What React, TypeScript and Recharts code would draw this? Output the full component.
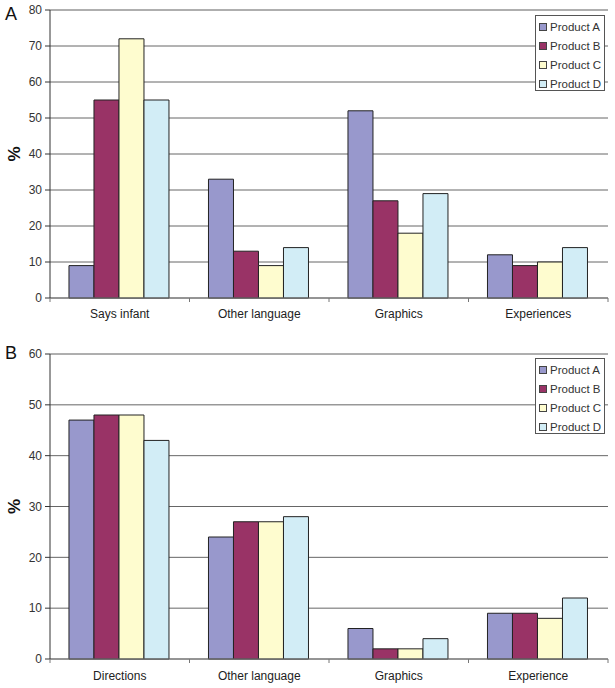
import React from 'react';
import { BarChart, Bar, XAxis, YAxis, CartesianGrid, Legend, ReferenceLine } from 'recharts';

const seriesNames = ['Product A', 'Product B', 'Product C', 'Product D'];
const seriesKeys = ['a', 'b', 'c', 'd'];
const seriesColors = ['#9898cc', '#993366', '#fefccf', '#d2edf6'];

const topCategories = ['Says infant', 'Other language', 'Graphics', 'Experiences'];
const topProductA = [9, 33, 52, 12];
const topProductB = [55, 13, 27, 9];
const topProductC = [72, 9, 18, 10];
const topProductD = [55, 14, 29, 14];
const topTicks = [0, 10, 20, 30, 40, 50, 60, 70, 80];

const bottomCategories = ['Directions', 'Other language', 'Graphics', 'Experience'];
const bottomProductA = [47, 24, 6, 9];
const bottomProductB = [48, 27, 2, 9];
const bottomProductC = [48, 27, 2, 8];
const bottomProductD = [43, 28, 4, 12];
const bottomTicks = [0, 10, 20, 30, 40, 50, 60];

const buildRows = (cats: string[], a: number[], b: number[], c: number[], d: number[]) =>
  cats.map((name, i) => ({ name, a: a[i], b: b[i], c: c[i], d: d[i] }));

const topData = buildRows(topCategories, topProductA, topProductB, topProductC, topProductD);
const bottomData = buildRows(bottomCategories, bottomProductA, bottomProductB, bottomProductC, bottomProductD);

const CHART_W = 615;
const Y_W = 50;
const RIGHT_M = 7;
const PLOT_W = CHART_W - Y_W - RIGHT_M;

const LegendBox = () => (
  <div
    style={{
      border: '1px solid #555',
      background: '#fff',
      width: 70,
      height: 76,
      boxSizing: 'border-box',
      padding: '1px 0 0 3px',
    }}
  >
    {seriesNames.map((n, i) => (
      <div key={n} style={{ height: 19, display: 'flex', alignItems: 'center', fontSize: 11.5, color: '#333', whiteSpace: 'nowrap' }}>
        <span
          style={{
            display: 'inline-block',
            width: 6,
            height: 6,
            border: '1px solid #444',
            background: seriesColors[i],
            marginRight: 3,
          }}
        />
        {n}
      </div>
    ))}
  </div>
);

const makeTick = (nCats: number, labelDy: number) => (props: any) => {
  const { x, y, payload, index } = props;
  const band = PLOT_W / nCats;
  const lx = x - band / 2;
  return (
    <g>
      <line x1={lx} y1={y} x2={lx} y2={y + 4} stroke="#777" />
      {index === nCats - 1 && <line x1={x + band / 2} y1={y} x2={x + band / 2} y2={y + 4} stroke="#777" />}
      <text x={x} y={y + labelDy} textAnchor="middle" fontSize={12} fill="#222">
        {payload.value}
      </text>
    </g>
  );
};

type PanelProps = {
  data: any[];
  ticks: number[];
  height: number;
  top: number;
  xAxisH: number;
  labelDy: number;
  legendTop: number;
  letter: string;
  letterTop: number;
};

const Panel = ({ data, ticks, height, top, xAxisH, labelDy, legendTop, letter, letterTop }: PanelProps) => {
  const max = ticks[ticks.length - 1];
  return (
    <div style={{ position: 'relative', width: CHART_W, height }}>
      <div style={{ position: 'absolute', left: 5, top: letterTop, fontSize: 18, color: '#111', lineHeight: 1 }}>{letter}</div>
      <BarChart
        width={CHART_W}
        height={height}
        data={data}
        margin={{ top, right: RIGHT_M, bottom: 2, left: 0 }}
        barCategoryGap="13.6%"
        barGap={0}
      >
        <CartesianGrid horizontal vertical={false} stroke="#666" />
        <ReferenceLine y={max} stroke="#aaa" />
        <XAxis
          dataKey="name"
          height={xAxisH}
          tickLine={false}
          tickSize={0}
          tickMargin={0}
          axisLine={{ stroke: '#777' }}
          tick={makeTick(data.length, labelDy)}
          interval={0}
        />
        <YAxis
          width={Y_W}
          domain={[0, max]}
          ticks={ticks}
          interval={0}
          tickSize={5}
          tickMargin={3}
          axisLine={{ stroke: '#333' }}
          tickLine={{ stroke: '#333' }}
          tick={{ fontSize: 12, fill: '#333' }}
          label={{ value: '%', angle: -90, position: 'center', dx: -11, style: { fontWeight: 'bold', fontSize: 17, fill: '#111' } }}
        />
        <YAxis
          yAxisId="r"
          orientation="right"
          width={0}
          domain={[0, max]}
          tick={false}
          tickLine={false}
          axisLine={{ stroke: '#aaa' }}
        />
        <Legend
          layout="vertical"
          align="center"
          verticalAlign="middle"
          wrapperStyle={{ left: 535, top: legendTop, width: 70, height: 76 }}
          content={() => <LegendBox />}
        />
        {seriesKeys.map((k, i) => (
          <Bar
            key={k}
            dataKey={k}
            name={seriesNames[i]}
            fill={seriesColors[i]}
            stroke="#222"
            strokeWidth={1}
            isAnimationActive={false}
          />
        ))}
      </BarChart>
    </div>
  );
};

export default function App() {
  return (
    <div
      style={{
        position: 'absolute',
        left: 0,
        top: 0,
        width: 615,
        height: 688,
        background: '#fff',
        fontFamily: '"Liberation Sans", Arial, sans-serif',
      }}
    >
      <Panel data={topData} ticks={topTicks} height={330} top={10} xAxisH={30} labelDy={20} legendTop={15} letter="A" letterTop={5} />
      <Panel data={bottomData} ticks={bottomTicks} height={358} top={24} xAxisH={27} labelDy={21} legendTop={28} letter="B" letterTop={14} />
    </div>
  );
}
